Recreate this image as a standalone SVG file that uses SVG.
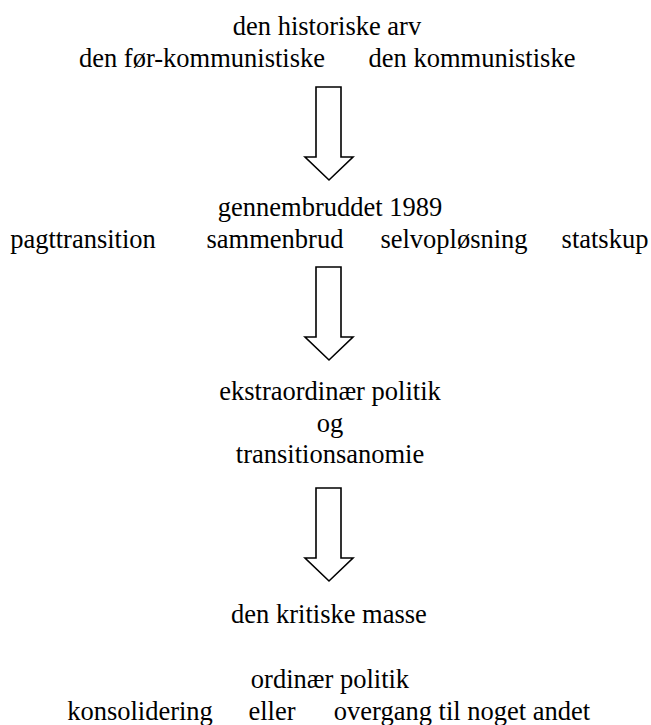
<svg xmlns="http://www.w3.org/2000/svg" xmlns:xlink="http://www.w3.org/1999/xlink" width="651" height="725" viewBox="0 0 651 725" font-family="'Liberation Serif', 'Times New Roman', 'DejaVu Serif', serif">
<style>
text{font-family:'Liberation Serif','Times New Roman','DejaVu Serif',serif;font-size:26.5px;fill:#000;text-anchor:middle}
.arrow{fill:#fff;stroke:#000;stroke-width:1.6;stroke-linejoin:miter}
</style>
<defs>
<path id="bigArrow" class="arrow" d="M316,0 H341 V70 H353 L329,93 L305,70 H316 Z"/>
</defs>
<rect width="651" height="725" fill="#fff"/>
<g id="node-arv">
<text x="327" y="35">den historiske arv</text>
<text x="202" y="67">den før-kommunistiske</text>
<text x="472" y="67">den kommunistiske</text>
</g>
<g id="node-gennembrud">
<text x="330" y="216">gennembruddet 1989</text>
<text x="83" y="248">pagttransition</text>
<text x="275" y="248">sammenbrud</text>
<text x="454" y="248">selvopløsning</text>
<text x="605" y="248">statskup</text>
</g>
<g id="node-ekstraordinaer">
<text x="330" y="400">ekstraordinær politik</text>
<text x="330" y="432">og</text>
<text x="330" y="463">transitionsanomie</text>
</g>
<g id="node-kritisk">
<text x="329" y="623">den kritiske masse</text>
</g>
<g id="node-ordinaer">
<text x="330" y="688">ordinær politik</text>
<text x="140" y="720">konsolidering</text>
<text x="272" y="720">eller</text>
<text x="462" y="720">overgang til noget andet</text>
</g>
<g id="connectors">
<use xlink:href="#bigArrow" transform="translate(0,87)"/>
<use xlink:href="#bigArrow" transform="translate(0,267)"/>
<use xlink:href="#bigArrow" transform="translate(0,488)"/>
</g>
</svg>
